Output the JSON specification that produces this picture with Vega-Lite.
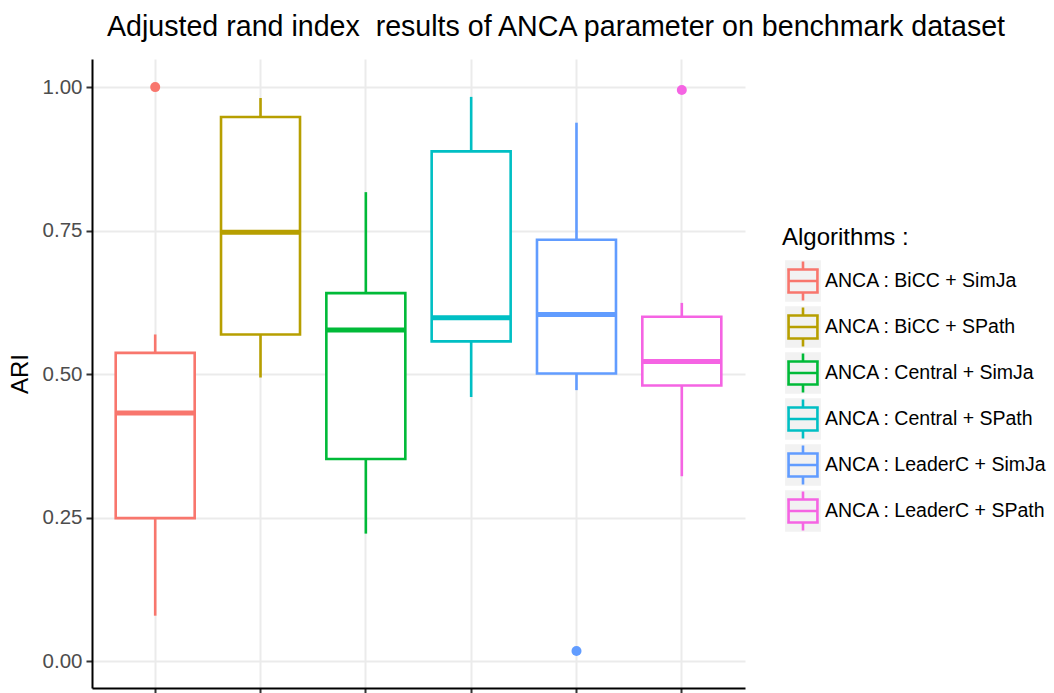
{
  "$schema": "https://vega.github.io/schema/vega-lite/v6.json",
  "autosize": {"type": "none"},
  "padding": {"left": 92, "top": 59, "right": 309, "bottom": 5},
  "width": 653,
  "height": 629,
  "background": "white",
  "config": {
    "font": "Liberation Sans",
    "view": {"stroke": null}
  },
  "title": {
    "text": "Adjusted rand index\u00a0 results of ANCA parameter on benchmark dataset",
    "fontSize": 28.6,
    "font": "Liberation Sans",
    "fontWeight": "normal",
    "color": "black",
    "anchor": "start",
    "frame": "group",
    "dx": 15,
    "offset": 17
  },
  "datasets": {
    "boxes": [
      {"algo": "ANCA : BiCC + SimJa", "algo2": "ANCA : BiCC + SimJa", "lower": 0.079, "q1": 0.249, "median": 0.432, "q3": 0.537, "upper": 0.569},
      {"algo": "ANCA : BiCC + SPath", "algo2": "ANCA : BiCC + SPath", "lower": 0.494, "q1": 0.569, "median": 0.747, "q3": 0.948, "upper": 0.981},
      {"algo": "ANCA : Central + SimJa", "algo2": "ANCA : Central + SimJa", "lower": 0.222, "q1": 0.352, "median": 0.577, "q3": 0.641, "upper": 0.817},
      {"algo": "ANCA : Central + SPath", "algo2": "ANCA : Central + SPath", "lower": 0.46, "q1": 0.557, "median": 0.598, "q3": 0.888, "upper": 0.983},
      {"algo": "ANCA : LeaderC + SimJa", "algo2": "ANCA : LeaderC + SimJa", "lower": 0.472, "q1": 0.501, "median": 0.604, "q3": 0.734, "upper": 0.938},
      {"algo": "ANCA : LeaderC + SPath", "algo2": "ANCA : LeaderC + SPath", "lower": 0.322, "q1": 0.48, "median": 0.522, "q3": 0.6, "upper": 0.624}
    ],
    "outliers": [
      {"algo": "ANCA : BiCC + SimJa", "ari": 1.0},
      {"algo": "ANCA : LeaderC + SimJa", "ari": 0.0175},
      {"algo": "ANCA : LeaderC + SPath", "ari": 0.995}
    ]
  },
  "encoding": {
    "x": {
      "field": "algo",
      "type": "nominal",
      "sort": ["ANCA : BiCC + SimJa", "ANCA : BiCC + SPath", "ANCA : Central + SimJa", "ANCA : Central + SPath", "ANCA : LeaderC + SimJa", "ANCA : LeaderC + SPath"],
      "scale": {"paddingInner": 0.25, "paddingOuter": 0.225},
      "axis": {
        "title": null,
        "labels": false,
        "ticks": true,
        "tickColor": "#333333",
        "tickWidth": 2,
        "tickSize": 6,
        "domainColor": "black",
        "domainWidth": 2,
        "grid": true,
        "gridColor": "#EBEBEB",
        "gridWidth": 2
      }
    }
  },
  "layer": [
    {
      "data": {"name": "boxes"},
      "mark": {"type": "bar", "opacity": 0},
      "encoding": {
        "y": {
          "field": "q1",
          "type": "quantitative",
          "scale": {"domain": [-0.047, 1.049], "nice": false, "zero": false},
          "axis": {
            "title": "ARI",
            "titleFontSize": 24,
            "titleFontWeight": "normal",
            "titleColor": "black",
            "titlePadding": 10,
            "values": [0, 0.25, 0.5, 0.75, 1],
            "format": ".2f",
            "labelFontSize": 20.5,
            "labelColor": "#4D4D4D",
            "labelPadding": 4,
            "tickColor": "#333333",
            "tickWidth": 2,
            "tickSize": 6,
            "domainColor": "black",
            "domainWidth": 2,
            "grid": true,
            "gridColor": "#EBEBEB",
            "gridWidth": 2
          }
        },
        "y2": {"field": "q3"},
        "fill": {
          "field": "algo2",
          "type": "nominal",
          "scale": {"range": ["#F2F2F2", "#F2F2F2", "#F2F2F2", "#F2F2F2", "#F2F2F2", "#F2F2F2"]},
          "legend": {
            "orient": "none",
            "legendX": 690,
            "legendY": 167,
            "title": "\u00a0",
            "titleFontSize": 24,
            "titleFontWeight": "normal",
            "titleOpacity": 0,
            "titlePadding": 10,
            "labelFontSize": 19.5,
            "labelExpr": "''",
            "labelOpacity": 0,
            "labelOffset": 1,
            "labelLimit": 400,
            "rowPadding": -8,
            "symbolType": "M-0.85,-1H0.85V1H-0.85Z",
            "symbolSize": 1521,
            "symbolOpacity": 1,
            "symbolStrokeColor": "#F2F2F2",
            "symbolStrokeWidth": 2.6
          }
        }
      }
    },
    {
      "data": {"name": "boxes"},
      "mark": {"type": "bar", "strokeWidth": 2.6, "fill": "white"},
      "encoding": {
        "y": {"field": "q1", "type": "quantitative"},
        "y2": {"field": "q3"},
        "stroke": {
          "field": "algo",
          "type": "nominal",
          "scale": {
            "domain": ["ANCA : BiCC + SimJa", "ANCA : BiCC + SPath", "ANCA : Central + SimJa", "ANCA : Central + SPath", "ANCA : LeaderC + SimJa", "ANCA : LeaderC + SPath"],
            "range": ["#F8766D", "#B79F00", "#00BA38", "#00BFC4", "#619CFF", "#F564E3"]
          },
          "legend": {
            "orient": "none",
            "legendX": 690,
            "legendY": 167,
            "title": "Algorithms :",
            "titleFontSize": 24,
            "titleFontWeight": "normal",
            "titleColor": "black",
            "titlePadding": 10,
            "labelFontSize": 19.5,
            "labelColor": "black",
            "labelOffset": 1,
            "labelLimit": 400,
            "rowPadding": -8,
            "symbolType": "M0,-1L0,-0.59M-0.81,-0.59L0.81,-0.59M0.74,-0.66L0.74,0.66M0.81,0.59L-0.81,0.59M-0.74,0.66L-0.74,-0.66M-0.74,0L0.74,0M0,0.59L0,1",
            "symbolSize": 1521,
            "symbolOpacity": 1,
            "symbolFillColor": "transparent",
            "symbolStrokeWidth": 2.6
          }
        }
      }
    },
    {
      "data": {"name": "boxes"},
      "mark": {"type": "rule", "strokeWidth": 2.6},
      "encoding": {
        "y": {"field": "lower", "type": "quantitative"},
        "y2": {"field": "q1"},
        "stroke": {"field": "algo", "type": "nominal"}
      }
    },
    {
      "data": {"name": "boxes"},
      "mark": {"type": "rule", "strokeWidth": 2.6},
      "encoding": {
        "y": {"field": "q3", "type": "quantitative"},
        "y2": {"field": "upper"},
        "stroke": {"field": "algo", "type": "nominal"}
      }
    },
    {
      "data": {"name": "boxes"},
      "mark": {"type": "bar", "strokeWidth": 5, "fill": "transparent"},
      "encoding": {
        "y": {"field": "median", "type": "quantitative"},
        "y2": {"field": "median"},
        "stroke": {"field": "algo", "type": "nominal"}
      }
    },
    {
      "data": {"name": "outliers"},
      "mark": {"type": "point", "filled": true, "size": 100, "opacity": 1},
      "encoding": {
        "y": {"field": "ari", "type": "quantitative"},
        "color": {
          "field": "algo",
          "type": "nominal",
          "scale": {
            "domain": ["ANCA : BiCC + SimJa", "ANCA : BiCC + SPath", "ANCA : Central + SimJa", "ANCA : Central + SPath", "ANCA : LeaderC + SimJa", "ANCA : LeaderC + SPath"],
            "range": ["#F8766D", "#B79F00", "#00BA38", "#00BFC4", "#619CFF", "#F564E3"]
          },
          "legend": null
        }
      }
    }
  ]
}
